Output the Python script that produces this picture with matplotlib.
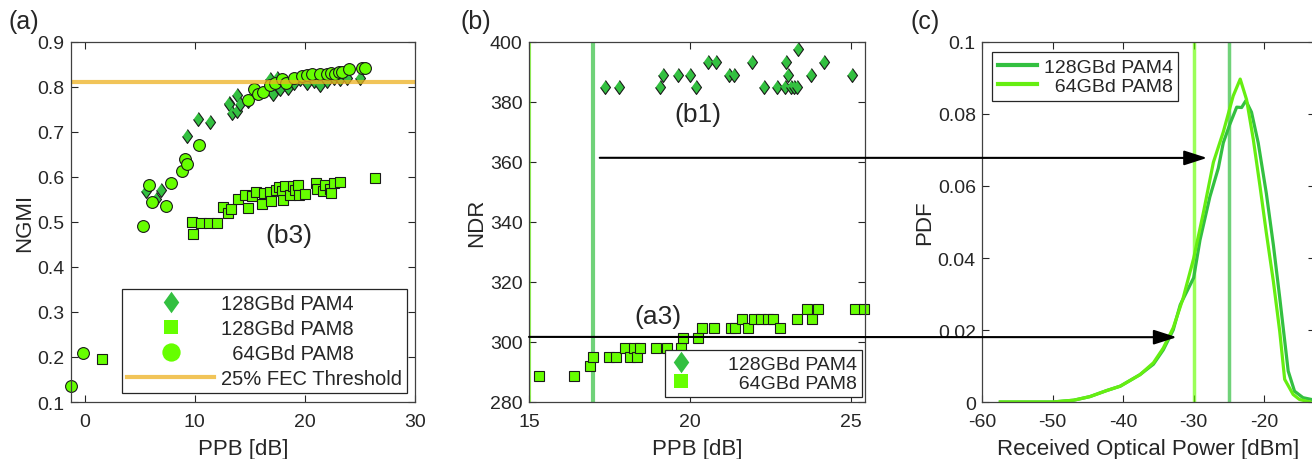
"""
NGMI / NDR vs PPB and received-power PDF (three panels)
"""

import numpy as np
import matplotlib
matplotlib.use('Agg')
import matplotlib.pyplot as plt
from matplotlib.patches import ConnectionPatch

plt.rcParams['font.family'] = ['Liberation Sans', 'DejaVu Sans']
plt.rcParams['axes.unicode_minus'] = False
plt.rcParams['text.color'] = '#262626'
plt.rcParams['axes.labelcolor'] = '#262626'
plt.rcParams['xtick.color'] = '#262626'
plt.rcParams['ytick.color'] = '#262626'

# ── colours ──
c_pam4 = '#33c040'
c_pam8 = '#66ff00'
c_fec = '#EDB120'
c_edge = '#1a1a1a'

# ── (a) NGMI vs PPB ──
a_pam4_x = [5.6, 6.5, 6.9, 9.25, 10.3, 11.4, 13.06, 13.1, 13.4, 13.8, 13.85, 14.1, 14.8,
            16.85, 17.1, 17.45, 17.75, 18.36, 18.5, 18.97, 19.57, 20.2, 20.8, 21.4, 22.0,
            22.6, 23.2, 23.8, 25.0]
a_pam4_y = [0.569, 0.55, 0.571, 0.692, 0.728, 0.722, 0.765, 0.763, 0.743, 0.782, 0.746,
            0.762, 0.769, 0.817, 0.784, 0.819, 0.795, 0.802, 0.798, 0.808, 0.817, 0.81,
            0.813, 0.804, 0.813, 0.819, 0.817, 0.82, 0.82]

a_sq_x = [1.54, 9.77, 9.8, 10.6, 11.3, 12.0, 12.6, 13.0, 13.3, 13.9, 14.6, 14.8, 15.2,
          15.6, 16.1, 16.3, 16.8, 16.95, 17.35, 17.6, 17.95, 18.0, 18.2, 18.6, 18.9, 19.1,
          19.4, 19.5, 20.0, 21.0, 21.1, 21.65, 21.8, 22.25, 22.35, 22.6, 23.2, 26.4]
a_sq_y = [0.196, 0.50, 0.474, 0.498, 0.498, 0.497, 0.533, 0.520, 0.529, 0.55, 0.559,
          0.532, 0.557, 0.566, 0.541, 0.564, 0.566, 0.546, 0.572, 0.577, 0.568, 0.548,
          0.581, 0.561, 0.581, 0.572, 0.582, 0.561, 0.563, 0.587, 0.574, 0.569, 0.583,
          0.574, 0.565, 0.587, 0.589, 0.597]

a_circ_x = [-1.24, -0.18, 5.26, 5.87, 6.07, 7.35, 7.8, 8.8, 9.1, 9.25, 10.4, 14.85, 15.36,
            15.7, 16.2, 16.85, 17.3, 17.9, 18.3, 18.97, 19.7, 20.2, 20.6, 21.4, 22.0,
            22.4, 22.75, 23.1, 23.4, 24.0, 25.2, 25.5]
a_circ_y = [0.135, 0.208, 0.491, 0.583, 0.545, 0.535, 0.587, 0.613, 0.641, 0.628, 0.672,
            0.772, 0.795, 0.784, 0.788, 0.804, 0.81, 0.817, 0.808, 0.821, 0.825, 0.826,
            0.828, 0.830, 0.828, 0.832, 0.830, 0.834, 0.833, 0.839, 0.843, 0.843]

fec_threshold = 0.812

# ── (b) NDR vs PPB ──
b_pam4_x = [17.35, 17.8, 19.07, 19.17, 19.64, 20.0, 20.2, 20.57, 20.83, 21.22, 21.37,
            21.95, 22.3, 22.7, 22.97, 23.0, 23.07, 23.15, 23.25, 23.32, 23.36, 23.78,
            24.17, 25.05]
b_pam4_y = [385, 385, 385, 389, 389, 389, 385, 393.4, 393.4, 389, 389, 393.4, 385, 385,
            385, 393.4, 389, 385, 385, 385, 397.6, 389, 393.4, 389]

b_pam8_x = [15.32, 16.4, 16.9, 17.0, 17.5, 17.72, 18.0, 18.14, 18.27, 18.37, 18.45,
            18.96, 19.3, 19.74, 19.8, 20.26, 20.38, 20.75, 21.27, 21.4, 21.63, 21.8,
            22.0, 22.2, 22.43, 22.6, 22.8, 23.33, 23.65, 23.8, 24.0, 25.15, 25.43]
b_pam8_y = [288.6, 288.6, 292, 295, 295, 295, 298.1, 295, 298.1, 295, 298.1, 298.1,
            298.1, 298.1, 301.3, 301.3, 304.6, 304.6, 304.6, 304.6, 307.7, 304.6, 307.7,
            307.7, 307.7, 307.7, 304.6, 307.7, 311, 307.7, 311, 311, 311]

# ── (c) PDF of received optical power ──
c_pam8_x = [-57.4, -50, -47, -44.7, -42.3, -40.4, -37.6, -35.7, -34.3, -32.9, -31.5,
            -30.0, -28.6, -27.2, -25.8, -24.4, -23.4, -22.5, -21.55, -20.6, -19.7,
            -18.7, -17.8, -17.1, -15.9, -15.0, -13.5]
c_pam8_y = [0, 0, 0.0005, 0.0015, 0.0032, 0.0044, 0.0076, 0.0109, 0.015, 0.0206, 0.0288,
            0.0399, 0.0528, 0.0666, 0.075, 0.085, 0.0897, 0.084, 0.073, 0.060, 0.047,
            0.0335, 0.0196, 0.0063, 0.0021, 0.0007, 0]

c_pam4_x = [-57.4, -50, -47, -44.7, -42.3, -40.4, -37.6, -35.7, -34.3, -32.9, -31.9,
            -30.0, -29.1, -27.7, -26.5, -25.8, -24.9, -23.9, -23.2, -22.6, -21.8, -20.85,
            -19.7, -18.7, -17.8, -16.6, -15.7, -14.5, -13.3]
c_pam4_y = [0, 0, 0.0005, 0.0015, 0.0032, 0.0044, 0.0076, 0.0105, 0.0145, 0.0200,
            0.0270, 0.0345, 0.045, 0.057, 0.065, 0.072, 0.077, 0.0819, 0.0818, 0.0837,
            0.0805, 0.072, 0.058, 0.0436, 0.029, 0.0086, 0.003, 0.0012, 0.0007]

# figure: 1312 x 460 px
W, H = 1312, 460
fig = plt.figure(figsize=(W / 100, H / 100), dpi=100, facecolor='white')

TICK_FS = 14
LABEL_FS = 16
LEG_FS = 14
NOTE_FS = 19


def px_axes(left, right, top, bottom):
    return fig.add_axes([left / W, 1 - bottom / H, (right - left) / W, (bottom - top) / H])


def style(ax):
    ax.tick_params(direction='in', top=True, right=True, labelsize=TICK_FS, length=5,
                   width=0.8)
    ax.tick_params(axis='x', pad=8)
    ax.tick_params(axis='y', pad=4.5)
    for s in ax.spines.values():
        s.set_color('#404040')
        s.set_linewidth(0.9)


diamond = [(0, 1), (0.72, 0), (0, -1), (-0.72, 0)]
mk = dict(linestyle='none', markeredgecolor=c_edge, markeredgewidth=0.8, clip_on=False)
leg_kw = dict(fancybox=False, framealpha=1, edgecolor='#262626', borderaxespad=0)

# ── Panel (a) ──
ax1 = px_axes(71, 415, 43, 403)
ax1.plot(a_pam4_x, a_pam4_y, marker=diamond, markersize=10, color=c_pam4,
         label='128GBd PAM4', **mk)
ax1.plot(a_sq_x, a_sq_y, marker='s', markersize=6.5, color=c_pam8,
         label='128GBd PAM8', **mk)
ax1.plot(a_circ_x, a_circ_y, marker='o', markersize=8.5, color=c_pam8,
         label='  64GBd PAM8', **mk)
ax1.axhline(fec_threshold, color=c_fec, alpha=0.75, linewidth=3, label='25% FEC Threshold')
ax1.set_xlim(-1.25, 30)
ax1.set_ylim(0.1, 0.9)
ax1.set_xticks([0, 10, 20, 30])
ax1.set_yticks(np.arange(0.1, 0.95, 0.1))
ax1.set_yticklabels(['0.1', '0.2', '0.3', '0.4', '0.5', '0.6', '0.7', '0.8', '0.9'])
ax1.set_xlabel('PPB [dB]', fontsize=LABEL_FS, labelpad=6)
ax1.set_ylabel('NGMI', fontsize=LABEL_FS, labelpad=2)
ax1.text(18.5, 0.472, '(b3)', fontsize=NOTE_FS, ha='center', va='center')
style(ax1)
leg1 = ax1.legend(loc='lower right', bbox_to_anchor=(0.977, 0.025), fontsize=14.5,
                  markerscale=1.55, handlelength=4.3, handletextpad=0.35,
                  labelspacing=0.3, borderpad=0.25, **leg_kw)
leg1.get_frame().set_linewidth(0.9)
for h in leg1.legend_handles[:3]:
    h.set_markeredgewidth(0)

# ── Panel (b) ──
ax2 = px_axes(529, 865, 43, 403)
ax2.axvline(15, color=c_pam8, alpha=0.65, linewidth=3)
ax2.axvline(17, color=c_pam4, alpha=0.7, linewidth=3)
ax2.plot(b_pam4_x, b_pam4_y, marker=diamond, markersize=10, color=c_pam4,
         label='128GBd PAM4', **mk)
ax2.plot(b_pam8_x, b_pam8_y, marker='s', markersize=6.5, color=c_pam8,
         label='  64GBd PAM8', **mk)
ax2.set_xlim(15, 25.45)
ax2.set_ylim(280, 400)
ax2.set_xticks([15, 20, 25])
ax2.set_yticks(np.arange(280, 401, 20))
ax2.set_xlabel('PPB [dB]', fontsize=LABEL_FS, labelpad=6)
ax2.set_ylabel('NDR', fontsize=LABEL_FS, labelpad=2)
ax2.text(20.26, 376, '(b1)', fontsize=NOTE_FS, ha='center', va='center')
ax2.text(19.0, 308.5, '(a3)', fontsize=NOTE_FS, ha='center', va='center')
style(ax2)
leg2 = ax2.legend(loc='lower right', bbox_to_anchor=(0.991, 0.014), fontsize=LEG_FS,
                  markerscale=1.55, handlelength=1.2, handletextpad=1.8,
                  labelspacing=0.1, borderpad=0.25, **leg_kw)
leg2.get_frame().set_linewidth(0.9)
for h in leg2.legend_handles:
    h.set_markeredgewidth(0)

# ── Panel (c) ──
ax3 = px_axes(982, 1315, 43, 403)
ax3.axvline(-30, color=c_pam8, alpha=0.65, linewidth=2.5)
ax3.axvline(-25, color=c_pam4, alpha=0.7, linewidth=2.5)
ax3.plot(c_pam4_x, c_pam4_y, color=c_pam4, linewidth=2.3, label='128GBd PAM4')
ax3.plot(c_pam8_x, c_pam8_y, color='#66ee11', linewidth=2.3, label='  64GBd PAM8')
ax3.set_xlim(-60, -12.8)
ax3.set_ylim(0, 0.1)
ax3.set_xticks([-60, -50, -40, -30, -20])
ax3.set_yticks([0, 0.02, 0.04, 0.06, 0.08, 0.1])
ax3.set_yticklabels(['0', '0.02', '0.04', '0.06', '0.08', '0.1'])
ax3.set_xlabel('Received Optical Power [dBm]', fontsize=LABEL_FS, labelpad=6)
ax3.set_ylabel('PDF', fontsize=LABEL_FS, labelpad=2)
style(ax3)
leg3 = ax3.legend(loc='upper left', bbox_to_anchor=(0.03, 0.972), fontsize=LEG_FS,
                  handlelength=2.0, handletextpad=0.35, labelspacing=0.1,
                  borderpad=0.3, **leg_kw)
leg3.get_frame().set_linewidth(0.9)
for h in leg3.legend_handles:
    h.set_linewidth(3)

# ── arrows linking (b) to (c) ──
for (xa, ya), (xb, yb) in [((17.2, 361.4), (-28.1, 0.0678)), ((15.0, 301.7), (-32.4, 0.018))]:
    con = ConnectionPatch(xyA=(xa, ya), coordsA=ax2.transData,
                          xyB=(xb, yb), coordsB=ax3.transData,
                          arrowstyle='-|>,head_length=1.4,head_width=0.45',
                          mutation_scale=10, color='black', linewidth=1.5)
    fig.add_artist(con)

# ── panel letters ──
fig.text(9 / W, 1 - 22 / H, '(a)', fontsize=18, va='center', ha='left')
fig.text(460 / W, 1 - 22 / H, '(b)', fontsize=18, va='center', ha='left')
fig.text(911 / W, 1 - 22 / H, '(c)', fontsize=18, va='center', ha='left')

plt.savefig('out.png', dpi=100, facecolor='white')
plt.close()
